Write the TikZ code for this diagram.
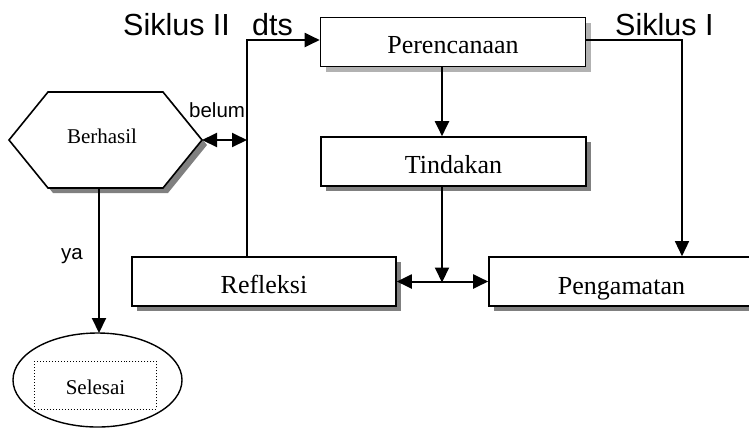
\documentclass[tikz,border=0pt]{standalone}
\usepackage{fontspec}
\setmainfont{Liberation Serif}
\newfontfamily\arialf{Liberation Sans}
\usetikzlibrary{arrows.meta,shadows,calc}
\begin{document}
\begin{tikzpicture}[x=1bp,y=-1bp,
  tip/.style={-{Triangle[length=15bp,width=14bp]}},
  dtip/.style={{Triangle[length=15bp,width=14bp]}-{Triangle[length=15bp,width=14bp]}},
  conn/.style={line width=2bp},
  thinconn/.style={line width=1.4bp},
  stepbox/.style={draw,line width=1.6bp,fill=white,minimum width=265bp,minimum height=49bp,
     inner sep=0pt,text height=23bp,text depth=0pt,font=\fontsize{26bp}{30bp}\selectfont},
  darkshadow/.style={general shadow={fill=black!50,shadow xshift=5bp,shadow yshift=-5bp}},
  lightshadow/.style={general shadow={fill=black!30,shadow xshift=5bp,shadow yshift=-5bp}},
  biglabel/.style={font=\arialf\fontsize{30.5bp}{34bp}\selectfont,inner sep=0pt,anchor=base west},
  smalllabel/.style={font=\arialf\fontsize{20.5bp}{24bp}\selectfont,inner sep=0pt,anchor=base west}
]
\useasboundingbox (0,0) rectangle (749,427);

% boxes
\node[stepbox,lightshadow] (P) at (453,42) {Perencanaan};
\node[stepbox,darkshadow] (T) at (453.5,161.5) {Tindakan};
\node[stepbox,darkshadow,minimum width=264bp] (R) at (264,281.5) {Refleksi};
\node[stepbox,darkshadow,text height=25bp] (G) at (621.5,281.5) {Pengamatan};

% hexagon
\coordinate (hL) at (9,140);
\coordinate (hTL) at (48,92);
\coordinate (hTR) at (163,92);
\coordinate (hR) at (202,140);
\coordinate (hBR) at (163,188);
\coordinate (hBL) at (48,188);
\coordinate (hB) at (99,188);
\fill[black!50] ($(hL)+(5,5)$) -- ($(hTL)+(5,5)$) -- ($(hTR)+(5,5)$) -- ($(hR)+(5,5)$) -- ($(hBR)+(5,5)$) -- ($(hBL)+(5,5)$) -- cycle;
\filldraw[fill=white,line width=1.6bp,line join=miter] (hL) -- (hTL) -- (hTR) -- (hR) -- (hBR) -- (hBL) -- cycle;
\node[font=\fontsize{21bp}{24bp}\selectfont,inner sep=0pt,anchor=base] (B) at (102,143) {Berhasil};

% ellipse
\draw[line width=1.4bp] (97.5,380) ellipse [x radius=84.5, y radius=47];
\node[draw,dotted,line width=1bp,minimum width=121bp,minimum height=48bp,inner sep=0pt,
  text height=19bp,text depth=0pt,font=\fontsize{21bp}{24bp}\selectfont] (S) at (95.5,385) {Selesai};
\coordinate (Etop) at (99,333);

% junction coordinates
\coordinate (c1) at (442,281.5);
\coordinate (s1) at (682,40);
\coordinate (s2) at (247,40);

% connectors
\draw[conn,tip] (P.south -| c1) -- (T.north -| c1);
\draw[conn,tip] (T.south -| c1) -- ([yshift=-1bp]c1);
\draw[conn,dtip] (R.east) -- (G.west);
\draw[thinconn,tip] (P.east |- s1) -- (s1) -- (G.north -| s1);
\draw[conn,tip] (R.north -| s2) -- (s2) -- (P.west |- s2);
\draw[conn,dtip] (hR) -- (hR -| s2);
\draw[conn,tip] (hB) -- (Etop);

% labels
\node[biglabel] (l1) at (123,35) {Siklus II};
\node[biglabel] (l2) at (252,35) {dts};
\node[biglabel] (l3) at (615,35) {Siklus I};
\node[smalllabel] (l4) at (189,117) {belum};
\node[smalllabel] (l5) at (61,259) {ya};
\end{tikzpicture}
\end{document}
